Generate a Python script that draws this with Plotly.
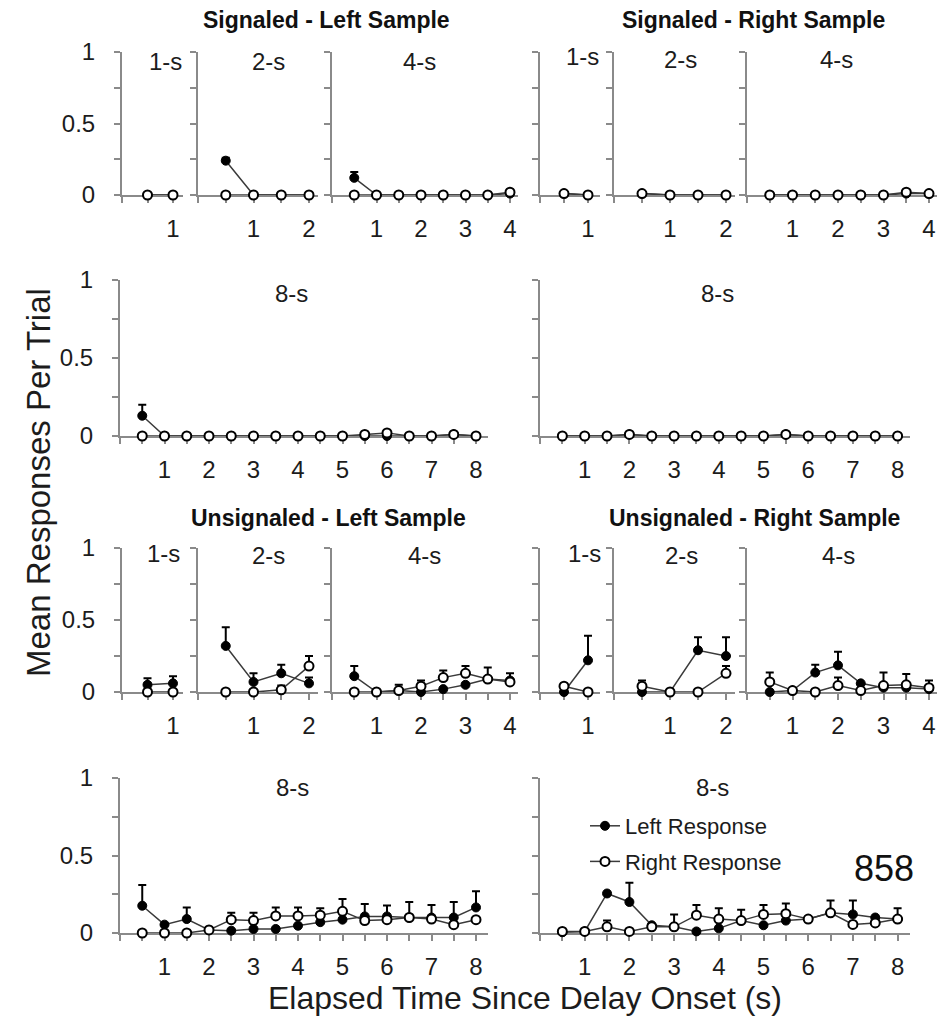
import plotly.graph_objects as go

W, H = 937, 1021

# ---------------- data ----------------
t1 = [0.5, 1.0]
t2 = [0.5, 1.0, 1.5, 2.0]
t4 = [0.5, 1.0, 1.5, 2.0, 2.5, 3.0, 3.5, 4.0]
t8 = [0.5, 1.0, 1.5, 2.0, 2.5, 3.0, 3.5, 4.0, 4.5, 5.0, 5.5, 6.0, 6.5, 7.0, 7.5, 8.0]

# Signaled - Left Sample
sl1_left = [0.0, 0.0]
sl1_left_err = [0.0, 0.0]
sl1_right = [0.0, 0.0]
sl1_right_err = [0.0, 0.0]
sl2_left = [0.24, 0.0, 0.0, 0.0]
sl2_left_err = [0.02, 0.0, 0.0, 0.0]
sl2_right = [0.0, 0.0, 0.0, 0.0]
sl2_right_err = [0.0, 0.0, 0.0, 0.0]
sl4_left = [0.12, 0.0, 0.0, 0.0, 0.0, 0.0, 0.0, 0.01]
sl4_left_err = [0.04, 0.0, 0.0, 0.0, 0.0, 0.0, 0.0, 0.0]
sl4_right = [0.0, 0.0, 0.0, 0.0, 0.0, 0.0, 0.0, 0.02]
sl4_right_err = [0.0, 0.0, 0.0, 0.0, 0.0, 0.0, 0.0, 0.0]
sl8_left = [0.13, 0.0, 0.0, 0.0, 0.0, 0.0, 0.0, 0.0, 0.0, 0.0, 0.0, 0.0, 0.0, 0.0, 0.01, 0.0]
sl8_left_err = [0.07, 0.0, 0.0, 0.0, 0.0, 0.0, 0.0, 0.0, 0.0, 0.0, 0.0, 0.0, 0.0, 0.0, 0.0, 0.0]
sl8_right = [0.0, 0.0, 0.0, 0.0, 0.0, 0.0, 0.0, 0.0, 0.0, 0.0, 0.01, 0.02, 0.0, 0.0, 0.01, 0.0]
sl8_right_err = [0.0] * 16

# Signaled - Right Sample
sr1_left = [0.01, 0.0]
sr1_left_err = [0.01, 0.0]
sr1_right = [0.01, 0.0]
sr1_right_err = [0.01, 0.0]
sr2_left = [0.01, 0.0, 0.0, 0.0]
sr2_left_err = [0.0, 0.0, 0.0, 0.0]
sr2_right = [0.01, 0.0, 0.0, 0.0]
sr2_right_err = [0.0, 0.0, 0.0, 0.0]
sr4_left = [0.0, 0.0, 0.0, 0.0, 0.0, 0.0, 0.01, 0.01]
sr4_left_err = [0.0] * 8
sr4_right = [0.0, 0.0, 0.0, 0.0, 0.0, 0.0, 0.02, 0.01]
sr4_right_err = [0.0, 0.0, 0.0, 0.0, 0.0, 0.0, 0.01, 0.0]
sr8_left = [0.0, 0.0, 0.0, 0.01, 0.0, 0.0, 0.0, 0.0, 0.0, 0.0, 0.01, 0.0, 0.0, 0.0, 0.0, 0.0]
sr8_left_err = [0.0] * 16
sr8_right = [0.0, 0.0, 0.0, 0.01, 0.0, 0.0, 0.0, 0.0, 0.0, 0.0, 0.01, 0.0, 0.0, 0.0, 0.0, 0.0]
sr8_right_err = [0.0] * 16

# Unsignaled - Left Sample
ul1_left = [0.05, 0.06]
ul1_left_err = [0.045, 0.05]
ul1_right = [0.0, 0.0]
ul1_right_err = [0.0, 0.0]
ul2_left = [0.32, 0.07, 0.13, 0.06]
ul2_left_err = [0.13, 0.06, 0.06, 0.04]
ul2_right = [0.0, 0.0, 0.015, 0.18]
ul2_right_err = [0.0, 0.0, 0.03, 0.07]
ul4_left = [0.11, 0.0, 0.01, 0.0, 0.02, 0.05, 0.09, 0.08]
ul4_left_err = [0.07, 0.0, 0.0, 0.0, 0.0, 0.0, 0.0, 0.0]
ul4_right = [0.0, 0.0, 0.01, 0.04, 0.1, 0.13, 0.09, 0.07]
ul4_right_err = [0.0, 0.0, 0.04, 0.04, 0.05, 0.05, 0.08, 0.06]
ul8_left = [0.176, 0.054, 0.09, 0.02, 0.015, 0.026, 0.026, 0.047, 0.07, 0.086, 0.107, 0.107, 0.1, 0.1, 0.1, 0.165]
ul8_left_err = [0.134, 0.0, 0.075, 0.0, 0.0, 0.0, 0.0, 0.0, 0.0, 0.0, 0.08, 0.07, 0.0, 0.0, 0.1, 0.105]
ul8_right = [0.0, 0.0, 0.0, 0.02, 0.086, 0.08, 0.11, 0.11, 0.115, 0.14, 0.08, 0.086, 0.1, 0.09, 0.054, 0.086]
ul8_right_err = [0.0, 0.0, 0.0, 0.0, 0.045, 0.05, 0.055, 0.055, 0.045, 0.08, 0.0, 0.0, 0.1, 0.09, 0.0, 0.0]

# Unsignaled - Right Sample
ur1_left = [0.0, 0.22]
ur1_left_err = [0.0, 0.17]
ur1_right = [0.04, 0.0]
ur1_right_err = [0.0, 0.0]
ur2_left = [0.0, 0.0, 0.29, 0.25]
ur2_left_err = [0.0, 0.0, 0.09, 0.13]
ur2_right = [0.04, 0.0, 0.0, 0.13]
ur2_right_err = [0.04, 0.0, 0.0, 0.05]
ur4_left = [0.0, 0.01, 0.135, 0.185, 0.06, 0.03, 0.03, 0.02]
ur4_left_err = [0.0, 0.0, 0.055, 0.095, 0.0, 0.0, 0.0, 0.0]
ur4_right = [0.07, 0.01, 0.0, 0.045, 0.01, 0.045, 0.05, 0.03]
ur4_right_err = [0.065, 0.0, 0.0, 0.055, 0.0, 0.09, 0.075, 0.05]
ur8_left = [0.005, 0.01, 0.255, 0.2, 0.05, 0.04, 0.01, 0.03, 0.08, 0.05, 0.08, 0.09, 0.13, 0.12, 0.1, 0.09]
ur8_left_err = [0.0, 0.0, 0.0, 0.125, 0.0, 0.0, 0.0, 0.0, 0.0, 0.0, 0.0, 0.0, 0.0, 0.09, 0.0, 0.0]
ur8_right = [0.01, 0.01, 0.04, 0.01, 0.04, 0.04, 0.115, 0.09, 0.08, 0.12, 0.125, 0.09, 0.13, 0.055, 0.065, 0.09]
ur8_right_err = [0.0, 0.0, 0.04, 0.0, 0.0, 0.08, 0.065, 0.07, 0.07, 0.06, 0.065, 0.0, 0.08, 0.0, 0.0, 0.07]

y_tickvals = [0, 0.25, 0.5, 0.75, 1]
y_ticktext = ["0", "", "0.5", "", "1"]

section_titles = ["Signaled - Left Sample", "Signaled - Right Sample",
                  "Unsignaled - Left Sample", "Unsignaled - Right Sample"]
series_names = ["Left Response", "Right Response"]
x_title = "Elapsed Time Since Delay Onset (s)"
y_title = "Mean Responses Per Trial"
subject_id = "858"

# ---------------- layout geometry (pixels) ----------------
ROWS = {1: (52, 195), 2: (280, 436), 3: (548, 692), 4: (778, 933)}
COLS = {
    ("L", 1): (122, 183, 51.0), ("L", 2): (198, 318, 55.5), ("L", 4): (332, 518, 44.5),
    ("R", 1): (540, 600, 48.0), ("R", 2): (614, 735, 56.0), ("R", 4): (747, 937, 45.5),
    ("L", 8): (120, 488, 44.5), ("R", 8): (540, 910, 44.7),
}

panels = [
    # row, side, dur, times, left, left_err, right, right_err, label_pos
    (1, "L", 1, t1, sl1_left, sl1_left_err, sl1_right, sl1_right_err, (165, 62)),
    (1, "L", 2, t2, sl2_left, sl2_left_err, sl2_right, sl2_right_err, (268, 62)),
    (1, "L", 4, t4, sl4_left, sl4_left_err, sl4_right, sl4_right_err, (419, 62)),
    (1, "R", 1, t1, sr1_left, sr1_left_err, sr1_right, sr1_right_err, (582, 57)),
    (1, "R", 2, t2, sr2_left, sr2_left_err, sr2_right, sr2_right_err, (680, 60)),
    (1, "R", 4, t4, sr4_left, sr4_left_err, sr4_right, sr4_right_err, (836, 60)),
    (2, "L", 8, t8, sl8_left, sl8_left_err, sl8_right, sl8_right_err, (291, 293)),
    (2, "R", 8, t8, sr8_left, sr8_left_err, sr8_right, sr8_right_err, (717, 293)),
    (3, "L", 1, t1, ul1_left, ul1_left_err, ul1_right, ul1_right_err, (163, 553)),
    (3, "L", 2, t2, ul2_left, ul2_left_err, ul2_right, ul2_right_err, (268, 555)),
    (3, "L", 4, t4, ul4_left, ul4_left_err, ul4_right, ul4_right_err, (424, 555)),
    (3, "R", 1, t1, ur1_left, ur1_left_err, ur1_right, ur1_right_err, (584, 553)),
    (3, "R", 2, t2, ur2_left, ur2_left_err, ur2_right, ur2_right_err, (681, 555)),
    (3, "R", 4, t4, ur4_left, ur4_left_err, ur4_right, ur4_right_err, (838, 555)),
    (4, "L", 8, t8, ul8_left, ul8_left_err, ul8_right, ul8_right_err, (292, 787)),
    (4, "R", 8, t8, ur8_left, ur8_left_err, ur8_right, ur8_right_err, (712, 787)),
]

FONT = "Liberation Sans, Arial, sans-serif"
TXT = "#1c1c1c"
AXC = "#8a8a8a"


def fx(x):
    return x / W


def fy(y):
    return 1 - y / H


def nz(a):
    return [v if v > 0 else None for v in a]


fig = go.Figure()
annotations = []
layout = {}

for i, (row, side, dur, times, lv, le, rv, re, lpos) in enumerate(panels, start=1):
    sfx = "" if i == 1 else str(i)
    x0, x1, unit = COLS[(side, dur)]
    ytop, ybot = ROWS[row]
    xmax = (x1 - x0) / unit
    xticks = [k * 0.5 for k in range(int(dur * 2) + 1)]
    xtext = [str(int(v)) if (v > 0 and v == int(v)) else "" for v in xticks]
    show_y = (side == "L" and dur in (1, 8))
    layout["xaxis" + sfx] = dict(
        domain=[fx(x0), min(1.0, fx(x1))], range=[0, xmax], anchor="y" + sfx,
        showgrid=False, zeroline=False, showline=True, linecolor=AXC, linewidth=2,
        ticks="outside", ticklen=6, tickwidth=2, tickcolor=AXC,
        tickvals=xticks, ticktext=xtext, ticklabelstandoff=5,
        tickfont=dict(family=FONT, size=24, color=TXT), layer="below traces",
        fixedrange=True, automargin=False,
    )
    layout["yaxis" + sfx] = dict(
        domain=[fy(ybot), fy(ytop)], range=[0, 1], anchor="x" + sfx,
        showgrid=False, zeroline=False, showline=True, linecolor=AXC, linewidth=2,
        ticks="outside", ticklen=6, tickwidth=2, tickcolor=AXC,
        tickvals=y_tickvals, ticktext=y_ticktext, showticklabels=show_y,
        ticklabelstandoff=14,
        tickfont=dict(family=FONT, size=24, color=TXT), layer="below traces",
        fixedrange=True, automargin=False,
    )
    first = (i == len(panels))
    fig.add_trace(go.Scatter(
        x=times, y=lv, mode="lines+markers", name=series_names[0],
        legendgroup="L", showlegend=first,
        line=dict(color="#3a3a3a", width=1.5),
        marker=dict(symbol="circle", size=9, color="black", line=dict(color="black", width=1)),
        error_y=dict(type="data", symmetric=False, array=nz(le), arrayminus=[0] * len(le),
                     color="black", thickness=2, width=4),
        cliponaxis=False, xaxis="x" + sfx, yaxis="y" + sfx,
    ))
    fig.add_trace(go.Scatter(
        x=times, y=rv, mode="lines+markers", name=series_names[1],
        legendgroup="R", showlegend=first,
        line=dict(color="#3a3a3a", width=1.5),
        marker=dict(symbol="circle", size=9, color="white", line=dict(color="black", width=2)),
        error_y=dict(type="data", symmetric=False, array=nz(re), arrayminus=[0] * len(re),
                     color="black", thickness=2, width=4),
        cliponaxis=False, xaxis="x" + sfx, yaxis="y" + sfx,
    ))
    annotations.append(dict(
        text=f"{dur}-s", x=fx(lpos[0]), y=fy(lpos[1]), xref="paper", yref="paper",
        xanchor="center", yanchor="middle", showarrow=False,
        font=dict(family=FONT, size=24, color=TXT),
    ))

title_pos = [(326, 20), (753, 20), (328, 518), (754, 518)]
for txt, (tx, ty) in zip(section_titles, title_pos):
    annotations.append(dict(
        text=f"<b>{txt}</b>", x=fx(tx), y=fy(ty), xref="paper", yref="paper",
        xanchor="center", yanchor="middle", showarrow=False,
        font=dict(family=FONT, size=23, color="#111"),
    ))

annotations.append(dict(
    text=y_title, x=fx(38), y=fy(483), xref="paper", yref="paper", textangle=-90,
    xanchor="center", yanchor="middle", showarrow=False,
    font=dict(family=FONT, size=33, color=TXT),
))
annotations.append(dict(
    text=x_title, x=fx(525), y=fy(998), xref="paper", yref="paper",
    xanchor="center", yanchor="middle", showarrow=False,
    font=dict(family=FONT, size=32, color=TXT),
))
annotations.append(dict(
    text=subject_id, x=fx(884), y=fy(868), xref="paper", yref="paper",
    xanchor="center", yanchor="middle", showarrow=False,
    font=dict(family=FONT, size=36, color="#111"),
))

fig.update_layout(
    width=W, height=H, margin=dict(l=0, r=0, t=0, b=0, autoexpand=False),
    paper_bgcolor="white", plot_bgcolor="white",
    annotations=annotations,
    legend=dict(x=fx(585), y=fy(805), xanchor="left", yanchor="top",
                bgcolor="rgba(0,0,0,0)", font=dict(family=FONT, size=22, color=TXT),
                tracegroupgap=4, traceorder="grouped", itemwidth=30),
    **layout,
)

fig.write_html("out.html")
